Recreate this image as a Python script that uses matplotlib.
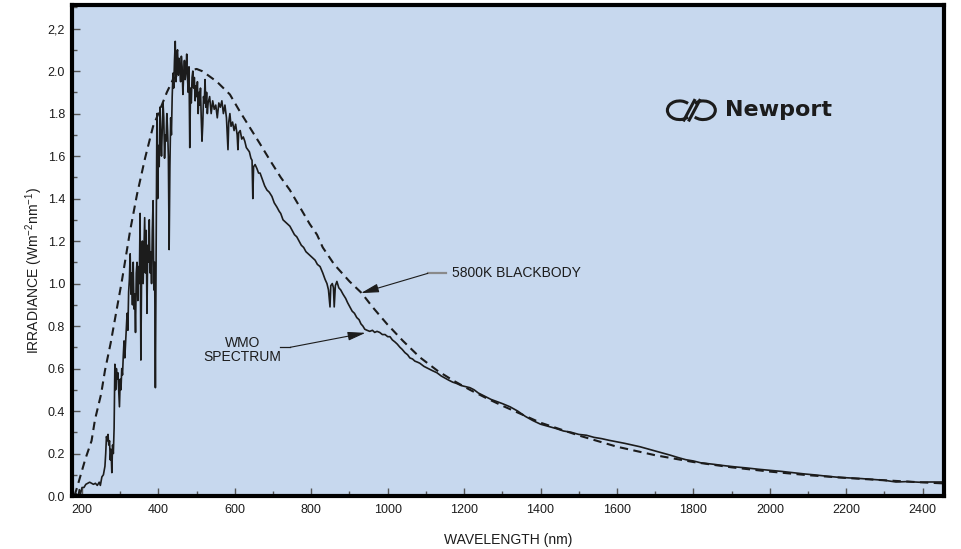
import matplotlib
matplotlib.use('Agg')
import matplotlib.pyplot as plt
from matplotlib.patches import Arc
from matplotlib.ticker import MultipleLocator, FixedLocator, FixedFormatter

plt.rcParams['font.family'] = ['Liberation Sans', 'DejaVu Sans']
plt.rcParams['mathtext.fontset'] = 'custom'
plt.rcParams['mathtext.rm'] = 'Liberation Sans'
plt.rcParams['mathtext.it'] = 'Liberation Sans'

# ── data ─────────────────────────────────────────────────────────────────────
# 5800 K blackbody (dashed)
bb_nm = [180, 187, 200, 208, 225, 234, 250, 260, 275, 286, 300, 305, 326, 344,
         365, 386, 400, 422, 438, 450, 475, 500, 514, 530, 553, 587, 613, 639,
         665, 692, 720, 744, 770, 796, 815, 830, 860, 900, 932, 960, 998, 1040,
         1084, 1130, 1170, 1215, 1259, 1300, 1350, 1400, 1500, 1600, 1700, 1800,
         1900, 2000, 2100, 2200, 2300, 2400, 2460]
bb_val = [0.00, 0.04, 0.12, 0.17, 0.26, 0.36, 0.48, 0.59, 0.72, 0.83, 0.97, 1.02,
          1.25, 1.42, 1.59, 1.74, 1.80, 1.90, 1.96, 1.98, 2.00, 2.01, 2.00, 1.98,
          1.95, 1.89, 1.81, 1.735, 1.66, 1.58, 1.50, 1.44, 1.36, 1.28, 1.23, 1.17,
          1.09, 1.01, 0.955, 0.89, 0.81, 0.73, 0.653, 0.59, 0.545, 0.50, 0.46,
          0.425, 0.385, 0.345, 0.285, 0.232, 0.192, 0.160, 0.135, 0.115, 0.098,
          0.085, 0.074, 0.064, 0.059]

# WMO extraterrestrial spectrum (solid)
wmo_nm = [180, 185, 190, 193, 196, 200, 205, 210, 215, 220, 225, 230, 235, 240,
          245, 248, 252, 256, 260, 262, 264, 266, 268, 270, 272, 274, 276, 278,
          280, 282, 284, 286, 288, 290, 292, 294, 296, 298, 300, 302, 304, 306,
          308, 310, 312, 314, 316, 318, 320, 322, 324, 326, 328, 330, 332, 334,
          336, 338, 340, 342, 344, 346, 348, 350, 352, 354, 356, 358, 360, 362,
          364, 366, 368, 370, 372, 374, 376, 378, 380, 382, 384, 386, 388, 390,
          392, 394, 396, 398, 400, 402, 404, 406, 408, 410, 412, 414, 416, 418,
          420, 422, 424, 426, 428, 430, 432, 434, 436, 438, 440, 442, 444, 446,
          448, 450, 452, 454, 456, 458, 460, 462, 464, 466, 468, 470, 472, 474,
          476, 478, 480, 482, 484, 486, 488, 490, 492, 494, 496, 498, 500, 502,
          504, 506, 508, 510, 512, 514, 516, 518, 520, 522, 524, 526, 528, 530,
          534, 538, 542, 546, 550, 554, 558, 562, 566, 570, 574, 578, 582, 584,
          587, 590, 594, 598, 602, 606, 608, 610, 614, 618, 622, 626, 630, 634,
          638, 642, 645, 647, 649, 653, 658, 662, 666, 672, 678, 684, 690, 697,
          703, 710, 716, 720, 726, 732, 738, 744, 750, 756, 762, 768, 774, 780,
          786, 792, 798, 804, 810, 816, 823, 830, 836, 841, 845, 849, 851, 855,
          858, 860, 863, 867, 872, 877, 883, 890, 895, 901, 907, 913, 919, 925,
          930, 935, 940, 946, 953, 960, 966, 972, 979, 986, 993, 1000, 1006, 1012,
          1019, 1025, 1032, 1038, 1045, 1052, 1058, 1065, 1071, 1078, 1084, 1095,
          1106, 1117, 1129, 1140, 1150, 1160, 1170, 1180, 1192, 1204, 1215, 1226,
          1237, 1248, 1259, 1270, 1285, 1300, 1320, 1340, 1360, 1380, 1400, 1420,
          1440, 1460, 1480, 1500, 1520, 1540, 1560, 1580, 1600, 1620, 1640, 1660,
          1680, 1700, 1720, 1740, 1760, 1780, 1800, 1820, 1850, 1880, 1910, 1940,
          1970, 2000, 2030, 2060, 2090, 2120, 2150, 2180, 2210, 2240, 2270, 2300,
          2330, 2360, 2390, 2420, 2460]
wmo_val = [0.00, 0.01, 0.00, 0.03, 0.01, 0.04, 0.04, 0.055, 0.06, 0.065, 0.06,
           0.055, 0.06, 0.05, 0.065, 0.05, 0.09, 0.10, 0.14, 0.20, 0.28, 0.26,
           0.29, 0.24, 0.26, 0.17, 0.22, 0.11, 0.24, 0.20, 0.32, 0.62, 0.50, 0.60,
           0.55, 0.58, 0.50, 0.42, 0.55, 0.50, 0.60, 0.57, 0.66, 0.73, 0.65, 0.72,
           0.80, 0.86, 0.78, 0.96, 1.02, 1.14, 0.95, 1.05, 0.90, 1.10, 0.88, 0.95,
           0.77, 1.05, 1.10, 0.92, 1.08, 1.00, 1.33, 0.64, 1.05, 1.20, 1.00, 1.15,
           1.31, 1.05, 1.25, 0.86, 1.18, 1.10, 1.30, 1.05, 1.15, 1.00, 1.25, 1.39,
           0.97, 1.10, 0.51, 1.20, 1.80, 1.40, 1.65, 1.55, 1.83, 1.70, 1.60, 1.72,
           1.85, 1.78, 1.59, 1.70, 1.67, 1.80, 1.72, 1.60, 1.16, 1.55, 1.78, 1.70,
           1.88, 1.99, 1.92, 2.05, 2.14, 1.95, 2.08, 2.10, 1.98, 2.06, 2.02, 1.95,
           2.07, 2.02, 1.89, 1.98, 2.05, 1.96, 2.00, 2.08, 1.97, 1.90, 2.02, 1.64,
           1.92, 1.85, 1.97, 2.00, 1.92, 1.97, 1.86, 1.93, 1.88, 1.95, 1.80, 1.90,
           1.84, 1.92, 1.78, 1.67, 1.75, 1.88, 1.85, 1.96, 1.83, 1.90, 1.80, 1.85,
           1.88, 1.80, 1.86, 1.82, 1.84, 1.78, 1.85, 1.83, 1.86, 1.80, 1.84, 1.78,
           1.63, 1.76, 1.80, 1.74, 1.76, 1.72, 1.75, 1.70, 1.63, 1.71, 1.72, 1.68,
           1.69, 1.67, 1.64, 1.63, 1.62, 1.59, 1.58, 1.40, 1.55, 1.56, 1.54, 1.52,
           1.52, 1.49, 1.46, 1.44, 1.43, 1.41, 1.38, 1.36, 1.34, 1.33, 1.30, 1.29,
           1.28, 1.27, 1.25, 1.23, 1.22, 1.20, 1.18, 1.17, 1.15, 1.14, 1.13, 1.12,
           1.11, 1.09, 1.08, 1.05, 1.02, 1.00, 0.97, 0.89, 0.99, 1.00, 0.98, 0.89,
           0.99, 1.01, 0.98, 0.97, 0.95, 0.93, 0.91, 0.89, 0.87, 0.86, 0.84, 0.83,
           0.81, 0.80, 0.785, 0.78, 0.775, 0.78, 0.77, 0.775, 0.77, 0.76, 0.76,
           0.75, 0.75, 0.735, 0.725, 0.715, 0.70, 0.69, 0.675, 0.665, 0.65, 0.645,
           0.635, 0.63, 0.625, 0.61, 0.60, 0.59, 0.58, 0.565, 0.555, 0.545, 0.536,
           0.53, 0.52, 0.515, 0.51, 0.50, 0.485, 0.475, 0.465, 0.455, 0.445, 0.435,
           0.42, 0.40, 0.375, 0.355, 0.338, 0.328, 0.318, 0.306, 0.300, 0.290,
           0.286, 0.276, 0.270, 0.262, 0.255, 0.248, 0.240, 0.232, 0.222, 0.212,
           0.202, 0.192, 0.181, 0.171, 0.165, 0.156, 0.150, 0.143, 0.137, 0.132,
           0.126, 0.121, 0.116, 0.110, 0.104, 0.099, 0.093, 0.088, 0.085, 0.082,
           0.078, 0.074, 0.066, 0.068, 0.065, 0.066, 0.066]

x_ticks = [200, 400, 600, 800, 1000, 1200, 1400, 1600, 1800, 2000, 2200, 2400]
y_ticks = [0.0, 0.2, 0.4, 0.6, 0.8, 1.0, 1.2, 1.4, 1.6, 1.8, 2.0, 2.2]
y_tick_labels = ['0.0', '0.2', '0.4', '0.6', '0.8', '1.0', '1.2', '1.4', '1.6',
                 '1.8', '2.0', '2,2']

BG = '#c7d8ee'
INK = '#1c1c1c'

# ── figure ───────────────────────────────────────────────────────────────────
fig = plt.figure(figsize=(9.61, 5.49), dpi=100)
ax = fig.add_axes([0.075, 0.0965, 0.907, 0.894])
ax.set_facecolor(BG)

ax.plot(bb_nm, bb_val, color=INK, lw=1.5, ls=(0, (4, 2.6)))
ax.plot(wmo_nm, wmo_val, color=INK, lw=1.2)

ax.set_xlim(174, 2455)
ax.set_ylim(0, 2.31)

ax.xaxis.set_major_locator(FixedLocator(x_ticks))
ax.xaxis.set_minor_locator(MultipleLocator(100))
ax.yaxis.set_major_locator(FixedLocator(y_ticks))
ax.yaxis.set_major_formatter(FixedFormatter(y_tick_labels))
ax.yaxis.set_minor_locator(MultipleLocator(0.1))
ax.tick_params(which='both', direction='in', color='#555555', width=1.0,
               labelsize=9, labelcolor=INK, top=False, right=False)
ax.tick_params(which='major', length=6)
ax.tick_params(which='minor', length=3.5)
ax.tick_params(axis='x', pad=6)
ax.tick_params(axis='y', pad=5)

for sp in ax.spines.values():
    sp.set_linewidth(3)
    sp.set_color('black')

ax.set_xlabel('WAVELENGTH (nm)', fontsize=10, color=INK)
ax.xaxis.set_label_coords(0.5, -0.076)
ax.set_ylabel(r'IRRADIANCE (Wm$^{-2}$nm$^{-1}$)', fontsize=10, color=INK)
ax.yaxis.set_label_coords(-0.031, 0.46)

# ── annotations ──────────────────────────────────────────────────────────────
arrow = dict(arrowstyle='-|>,head_length=0.9,head_width=0.22', color=INK,
             lw=0.8, mutation_scale=12, shrinkA=0, shrinkB=0)
ax.plot([1105, 1152], [1.048, 1.048], color='#8a8a8a', lw=1.6)
ax.annotate('', xy=(930, 0.955), xytext=(1105, 1.048), arrowprops=arrow)
ax.text(1168, 1.048, '5800K BLACKBODY', fontsize=10, color=INK,
        ha='left', va='center')

ax.plot([718, 745], [0.70, 0.70], color=INK, lw=0.9)
ax.annotate('', xy=(942, 0.768), xytext=(745, 0.70), arrowprops=arrow)
ax.text(620, 0.686, 'WMO\nSPECTRUM', fontsize=10, color=INK,
        ha='center', va='center', linespacing=1.0)

# ── Newport logo ─────────────────────────────────────────────────────────────
logo = dict(transform=ax.transAxes, color=INK, lw=2.2)
ax.add_patch(Arc((0.697, 0.786), 0.028, 0.038, theta1=55, theta2=305, **logo))
ax.add_patch(Arc((0.724, 0.786), 0.028, 0.038, theta1=-125, theta2=125, **logo))
ax.plot([0.702, 0.714], [0.766, 0.806], transform=ax.transAxes, color=INK, lw=2.2)
ax.plot([0.708, 0.720], [0.766, 0.806], transform=ax.transAxes, color=INK, lw=2.2)
ax.text(0.749, 0.786, 'Newport', transform=ax.transAxes, fontsize=16,
        color=INK, ha='left', va='center', family=['DejaVu Sans'],
        fontweight='bold')

fig.savefig('out.png', dpi=100)
